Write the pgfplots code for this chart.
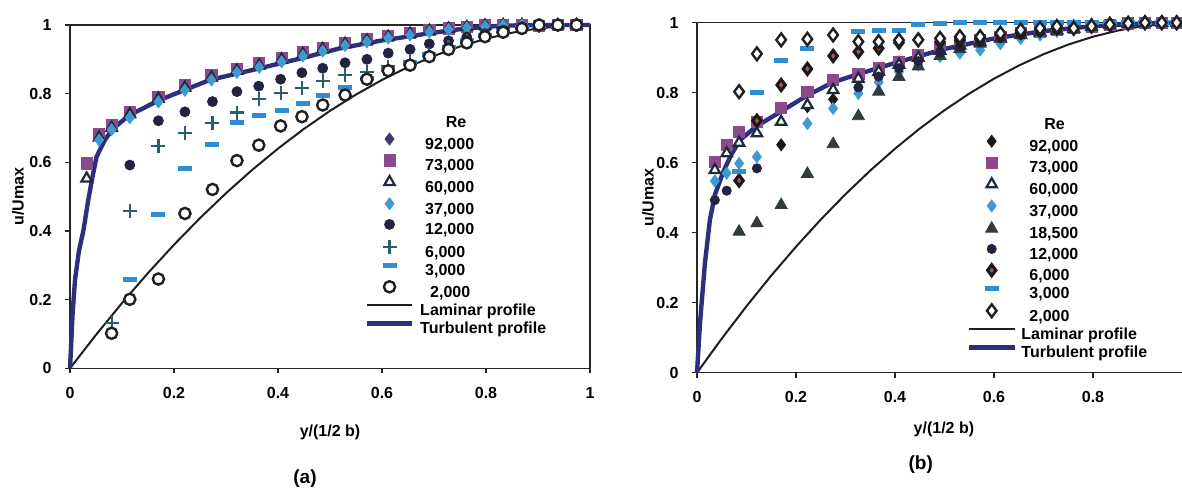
\documentclass[border=0pt]{standalone}
\usepackage{fontspec}
\setmainfont{Liberation Sans}
\usepackage{pgfplots}
\pgfplotsset{compat=1.18}
\definecolor{turb}{HTML}{2E2E7E}
\definecolor{lam}{HTML}{1E1E1E}
\definecolor{mA}{HTML}{3C3C6C}
\definecolor{mB}{HTML}{8B4A8E}
\definecolor{mC}{HTML}{1E2B3C}
\definecolor{mD}{HTML}{3E9BD2}
\definecolor{mE}{HTML}{23233F}
\definecolor{mF}{HTML}{2A5F66}
\definecolor{mG}{HTML}{2E8ED4}
\definecolor{mH}{HTML}{202020}
\definecolor{mT}{HTML}{2F3B3C}
\definecolor{mR}{HTML}{A0584A}
\newcommand{\fnt}{\bfseries\fontsize{8}{9.6}\selectfont}
\pgfplotsset{
  mk/.style={only marks, legend image code/.code={\draw[##1] plot coordinates {(11.25pt,2.9pt)};}},
  base/.style={
    scale only axis, anchor=south west, xmin=0, ymin=0, ymax=1, clip=false,
    axis line style={line width=0.75pt, color=black!85},
    tick style={line width=0.75pt, color=black!85},
    tick align=outside, tick pos=left, major tick length=2.5pt,
    ytick={0,0.2,0.4,0.6,0.8,1},
    /pgf/number format/assume math mode=true,
    tick label style={font=\fnt},
    yticklabel style={anchor=east, inner sep=0pt, xshift=-6.5pt},
    xticklabel style={anchor=north, inner sep=0pt, yshift=-6.8pt},
    label style={font=\fnt},
    legend cell align=left,
    legend image code/.code={\draw[##1] (0pt,2.9pt) -- (22.5pt,2.9pt);},
    legend style={draw=none, fill=none, inner sep=0pt, outer sep=0pt, row sep=0.7pt,
      font=\fnt, nodes={inner sep=0pt, text height=6.5pt, text depth=2pt}, anchor=north west},
  }
}
\begin{document}
\begin{tikzpicture}
\useasboundingbox (0,0) rectangle (591pt,244.5pt);
% ---------------- panel (a) ----------------
\begin{axis}[base, at={(35pt,60.35pt)}, width=260pt, height=171.65pt, xmax=1,
  xtick={0,0.2,0.4,0.6,0.8,1},
  xlabel={y/(1/2 b)}, ylabel={u/Umax},
  xlabel style={at={(axis description cs:0.5,-0.1858)}, anchor=center},
  ylabel style={at={(axis description cs:-0.1,0.5)}, anchor=center},
  legend style={at={(axis description cs:0.567,0.739)}, column sep=3pt}]
\addlegendimage{empty legend}\addlegendentry{\hspace{12.85pt}Re}
\addplot[forget plot, lam, line width=1pt] coordinates {(0,0)(0.05,0.0975)(0.1,0.19)(0.15,0.2775)(0.2,0.36)(0.25,0.4375)(0.3,0.51)(0.35,0.5775)(0.4,0.64)(0.45,0.6975)(0.5,0.75)(0.55,0.7975)(0.6,0.84)(0.65,0.8775)(0.7,0.91)(0.75,0.9375)(0.8,0.96)(0.85,0.9775)(0.9,0.99)(0.95,0.9975)(1,1)};
\addplot[forget plot, turb, line width=2.2pt] coordinates {(0,0)(0.002,0.06)(0.005,0.16)(0.0096,0.257)(0.017,0.34)(0.026,0.403)(0.034,0.48)(0.042,0.548)(0.051,0.616)(0.067,0.665)(0.083,0.699)(0.115,0.738)(0.173,0.782)(0.269,0.84)(0.365,0.874)(0.45,0.905)(0.519,0.932)(0.6,0.955)(0.692,0.976)(0.76,0.99)(0.83,0.998)(0.9,1.0)(1,1)};
\addplot[mk, mark=diamond*, mark size=3pt, color=mA] coordinates {(0.056,0.680)(0.080,0.706)(0.115,0.744)(0.170,0.789)(0.221,0.822)(0.272,0.851)(0.321,0.871)(0.364,0.886)(0.407,0.903)(0.448,0.919)(0.486,0.932)(0.529,0.948)(0.571,0.958)(0.612,0.968)(0.654,0.976)(0.691,0.985)(0.728,0.990)(0.763,0.995)(0.798,1.0)(0.833,1.0)(0.869,1.0)(0.902,0.997)(0.938,1.0)(0.974,1.0)};
\addlegendentry{\hspace{2.5pt}92,000}
\addplot[mk, mark=square*, mark size=2.8pt, color=mB] coordinates {(0.032,0.597)(0.056,0.682)(0.080,0.708)(0.115,0.746)(0.170,0.791)(0.221,0.824)(0.272,0.853)(0.321,0.873)(0.364,0.888)(0.407,0.905)(0.448,0.920)(0.486,0.933)(0.529,0.948)(0.571,0.958)(0.612,0.968)(0.654,0.976)(0.691,0.985)(0.728,0.990)(0.763,0.995)(0.798,1.0)(0.833,1.0)(0.869,1.0)(0.902,0.997)(0.938,1.0)(0.974,1.0)};
\addlegendentry{\hspace{2.5pt}73,000}
\addplot[mk, mark=triangle*, mark size=3pt, mark options={draw=mC, fill=white, line width=1.1pt}] coordinates {(0.032,0.553)(0.056,0.672)(0.080,0.700)(0.115,0.740)(0.170,0.785)(0.221,0.818)(0.272,0.847)(0.321,0.867)(0.364,0.882)(0.407,0.899)(0.448,0.915)(0.486,0.929)(0.529,0.944)(0.571,0.955)(0.612,0.965)(0.654,0.974)(0.691,0.983)(0.728,0.989)(0.763,0.994)(0.798,0.998)(0.833,1.0)(0.869,1.0)(0.902,0.997)(0.938,1.0)(0.974,1.0)};
\addlegendentry{\hspace{2.5pt}60,000}
\addplot[mk, mark=diamond*, mark size=3pt, color=mD] coordinates {(0.056,0.665)(0.080,0.695)(0.115,0.730)(0.170,0.776)(0.221,0.810)(0.272,0.840)(0.321,0.862)(0.364,0.877)(0.407,0.893)(0.448,0.910)(0.486,0.924)(0.529,0.940)(0.571,0.951)(0.612,0.962)(0.654,0.971)(0.691,0.980)(0.728,0.987)(0.763,0.992)(0.798,0.996)(0.833,0.999)(0.869,1.0)(0.902,1.0)(0.938,1.0)(0.974,1.0)};
\addlegendentry{\hspace{2.5pt}37,000}
\addplot[mk, mark=*, mark size=2.5pt, color=mE] coordinates {(0.115,0.592)(0.170,0.721)(0.221,0.747)(0.274,0.777)(0.321,0.806)(0.363,0.822)(0.405,0.842)(0.446,0.861)(0.486,0.874)(0.529,0.890)(0.571,0.900)(0.612,0.918)(0.654,0.929)(0.691,0.945)(0.728,0.954)(0.763,0.965)(0.798,0.975)(0.833,0.985)(0.869,0.993)(0.902,0.997)(0.938,1.0)(0.974,1.0)};
\addlegendentry{\hspace{2.5pt}12,000}
\addplot[mk, mark=+, mark size=3.5pt, mark options={draw=mF, line width=1.1pt}] coordinates {(0.080,0.131)(0.115,0.459)(0.170,0.648)(0.221,0.686)(0.274,0.715)(0.321,0.745)(0.363,0.784)(0.405,0.803)(0.446,0.816)(0.486,0.837)(0.529,0.854)(0.571,0.864)(0.612,0.879)(0.654,0.893)(0.691,0.915)(0.728,0.935)(0.763,0.952)(0.798,0.968)(0.833,0.980)(0.869,0.990)(0.902,0.997)(0.938,1.0)(0.974,1.0)};
\addlegendentry{\hspace{2.5pt}6,000}
\addplot[mk, mark=-, mark size=3.5pt, mark options={draw=mG, line width=2.5pt}] coordinates {(0.115,0.260)(0.170,0.447)(0.221,0.583)(0.274,0.652)(0.321,0.717)(0.364,0.735)(0.407,0.752)(0.448,0.772)(0.486,0.794)(0.529,0.819)(0.571,0.845)(0.612,0.870)(0.654,0.890)(0.691,0.915)(0.728,0.935)(0.763,0.955)(0.798,0.970)(0.833,0.982)(0.869,0.992)(0.902,0.998)(0.938,1.0)(0.974,1.0)};
\addlegendentry{\hspace{2.5pt}3,000}
\addplot[mk, mark=*, mark size=2.8pt, mark options={draw=mH, fill=white, line width=1.2pt}] coordinates {(0.080,0.102)(0.115,0.201)(0.170,0.260)(0.221,0.451)(0.274,0.521)(0.321,0.605)(0.363,0.650)(0.405,0.706)(0.446,0.733)(0.486,0.767)(0.529,0.796)(0.571,0.842)(0.612,0.867)(0.654,0.883)(0.691,0.908)(0.728,0.929)(0.763,0.948)(0.798,0.966)(0.833,0.979)(0.869,0.990)(0.902,1.0)(0.938,1.0)(0.974,1.0)};
\addlegendentry{\hspace{5pt}2,000}
\addlegendimage{lam, line width=1pt}\addlegendentry{Laminar profile}
\addlegendimage{turb, line width=2.2pt}\addlegendentry{Turbulent profile}
\end{axis}
% ---------------- panel (b) ----------------
\begin{axis}[base, at={(348.5pt,58.15pt)}, width=242.55pt, height=175pt, xmax=0.98,
  axis x line*=box, axis y line*=left,
  xtick={0,0.2,0.4,0.6,0.8},
  xlabel={y/(1/2 b)}, ylabel={u/Umax},
  xlabel style={at={(axis description cs:0.509,-0.162)}, anchor=center},
  ylabel style={at={(axis description cs:-0.101,0.5)}, anchor=center},
  legend image code/.code={\draw[#1] (0pt,2.9pt) -- (23pt,2.9pt);},
  legend style={at={(axis description cs:0.5566,0.731)}, column sep=2pt}]
\addlegendimage{empty legend}\addlegendentry{\hspace{11.5pt}Re}
\addplot[forget plot, lam, line width=1pt] coordinates {(0,0)(0.05,0.0975)(0.1,0.19)(0.15,0.2775)(0.2,0.36)(0.25,0.4375)(0.3,0.51)(0.35,0.5775)(0.4,0.64)(0.45,0.6975)(0.5,0.75)(0.55,0.7975)(0.6,0.84)(0.65,0.8775)(0.7,0.91)(0.75,0.9375)(0.8,0.96)(0.85,0.9775)(0.9,0.99)(0.95,0.9975)(0.98,0.9996)};
\addplot[forget plot, turb, line width=2.2pt] coordinates {(0,0)(0.006,0.141)(0.016,0.313)(0.026,0.436)(0.036,0.508)(0.053,0.574)(0.07,0.625)(0.087,0.665)(0.121,0.705)(0.168,0.745)(0.22,0.79)(0.275,0.83)(0.33,0.855)(0.4,0.885)(0.45,0.905)(0.5,0.925)(0.6,0.955)(0.7,0.976)(0.8,0.99)(0.9,0.998)(0.98,1)};
\addplot[mk, mark=diamond*, mark size=3pt, color=black!90] coordinates {(0.170,0.651)(0.223,0.760)(0.275,0.781)(0.326,0.850)(0.367,0.868)(0.408,0.887)(0.447,0.905)(0.491,0.928)(0.531,0.940)(0.572,0.950)(0.613,0.960)(0.654,0.970)(0.693,0.975)(0.727,0.980)(0.761,0.985)(0.797,0.990)(0.834,0.994)(0.871,0.998)(0.905,1.0)(0.939,1.0)(0.969,1.0)};
\addlegendentry{\hspace{4pt}92,000}
\addplot[mk, mark=square*, mark size=2.8pt, color=mB] coordinates {(0.036,0.603)(0.060,0.651)(0.085,0.689)(0.121,0.717)(0.170,0.757)(0.223,0.803)(0.275,0.836)(0.326,0.853)(0.367,0.870)(0.408,0.889)(0.447,0.908)(0.491,0.931)(0.531,0.941)(0.572,0.951)(0.613,0.960)(0.654,0.970)(0.693,0.975)(0.727,0.980)(0.761,0.985)(0.797,0.989)(0.834,0.993)(0.871,0.998)(0.905,1.0)(0.939,1.0)(0.969,1.0)};
\addlegendentry{\hspace{4pt}73,000}
\addplot[mk, mark=triangle*, mark size=3pt, mark options={draw=mC, fill=white, line width=1.1pt}] coordinates {(0.036,0.579)(0.060,0.627)(0.085,0.657)(0.121,0.684)(0.170,0.717)(0.223,0.765)(0.275,0.808)(0.326,0.840)(0.367,0.860)(0.408,0.880)(0.447,0.900)(0.491,0.920)(0.531,0.935)(0.572,0.945)(0.613,0.955)(0.654,0.965)(0.693,0.972)(0.727,0.978)(0.761,0.983)(0.797,0.988)(0.834,0.993)(0.871,0.997)(0.905,1.0)(0.939,1.0)(0.969,1.0)};
\addlegendentry{\hspace{4pt}60,000}
\addplot[mk, mark=diamond*, mark size=3pt, color=mD] coordinates {(0.036,0.548)(0.060,0.570)(0.085,0.598)(0.121,0.617)(0.223,0.712)(0.275,0.755)(0.326,0.798)(0.367,0.830)(0.408,0.860)(0.447,0.879)(0.491,0.903)(0.531,0.913)(0.572,0.922)(0.613,0.940)(0.654,0.955)(0.693,0.965)(0.727,0.975)(0.761,0.980)(0.797,0.988)(0.834,0.993)(0.871,0.997)(0.905,1.0)(0.939,1.0)(0.969,1.0)};
\addlegendentry{\hspace{4pt}37,000}
\addplot[mk, mark=triangle*, mark size=3.5pt, color=mT] coordinates {(0.085,0.403)(0.121,0.427)(0.170,0.479)(0.223,0.568)(0.275,0.653)(0.326,0.733)(0.367,0.803)(0.408,0.845)(0.447,0.875)(0.491,0.905)(0.531,0.925)(0.572,0.940)(0.613,0.955)(0.654,0.965)(0.693,0.975)(0.727,0.980)(0.761,0.985)(0.797,0.990)(0.834,0.995)(0.871,0.998)(0.905,1.0)(0.939,1.0)(0.969,1.0)};
\addlegendentry{\hspace{4pt}18,500}
\addplot[mk, mark=*, mark size=2.3pt, color=mE] coordinates {(0.036,0.493)(0.060,0.520)(0.121,0.584)(0.326,0.815)(0.367,0.846)(0.408,0.870)(0.447,0.890)(0.491,0.915)(0.531,0.930)(0.572,0.945)(0.613,0.955)(0.654,0.965)(0.693,0.972)(0.727,0.978)(0.761,0.984)(0.797,0.989)(0.834,0.994)(0.871,0.998)(0.905,1.0)(0.939,1.0)(0.969,1.0)};
\addlegendentry{\hspace{4pt}12,000}
\addplot[mk, mark=diamond*, mark size=2.8pt, mark options={draw=black!90, fill=mR, line width=1.5pt}] coordinates {(0.085,0.549)(0.121,0.720)(0.170,0.822)(0.223,0.868)(0.275,0.905)(0.326,0.917)(0.367,0.927)(0.408,0.943)(0.447,0.951)(0.491,0.945)(0.531,0.950)(0.572,0.955)(0.613,0.965)(0.654,0.972)(0.693,0.978)(0.727,0.984)(0.761,0.988)(0.797,0.992)(0.834,0.996)(0.871,0.998)(0.905,1.0)(0.939,1.0)(0.969,1.0)};
\addlegendentry{\hspace{4pt}6,000}
\addplot[mk, mark=-, mark size=3.5pt, mark options={draw=mG, line width=2.5pt}] coordinates {(0.085,0.576)(0.121,0.800)(0.170,0.893)(0.223,0.925)(0.326,0.974)(0.367,0.979)(0.408,0.979)(0.447,0.996)(0.491,0.998)(0.531,1.0)(0.572,1.0)(0.613,1.0)(0.654,1.0)(0.693,1.0)(0.727,1.0)(0.761,1.0)(0.797,1.0)(0.834,1.0)(0.871,1.0)(0.905,1.0)(0.939,1.0)(0.969,1.0)};
\addlegendentry{\hspace{4pt}3,000}
\addplot[mk, mark=diamond*, mark size=3.2pt, mark options={draw=mH, fill=white, line width=1.2pt}] coordinates {(0.085,0.803)(0.121,0.911)(0.170,0.951)(0.223,0.953)(0.275,0.965)(0.326,0.946)(0.367,0.946)(0.408,0.950)(0.447,0.951)(0.491,0.955)(0.531,0.960)(0.572,0.960)(0.613,0.970)(0.654,0.979)(0.693,0.984)(0.727,0.989)(0.761,0.984)(0.797,0.990)(0.834,0.995)(0.871,0.998)(0.905,1.0)(0.939,1.0)(0.969,1.0)};
\addlegendentry{\hspace{4pt}2,000}
\addlegendimage{lam, line width=1pt}\addlegendentry{Laminar profile}
\addlegendimage{turb, line width=2.2pt}\addlegendentry{Turbulent profile}
\end{axis}
\node[font=\bfseries\fontsize{9.5}{11}\selectfont] at (152.5pt,5pt) {(a)};
\node[font=\bfseries\fontsize{9.5}{11}\selectfont] at (460.35pt,12pt) {(b)};
\end{tikzpicture}
\end{document}
